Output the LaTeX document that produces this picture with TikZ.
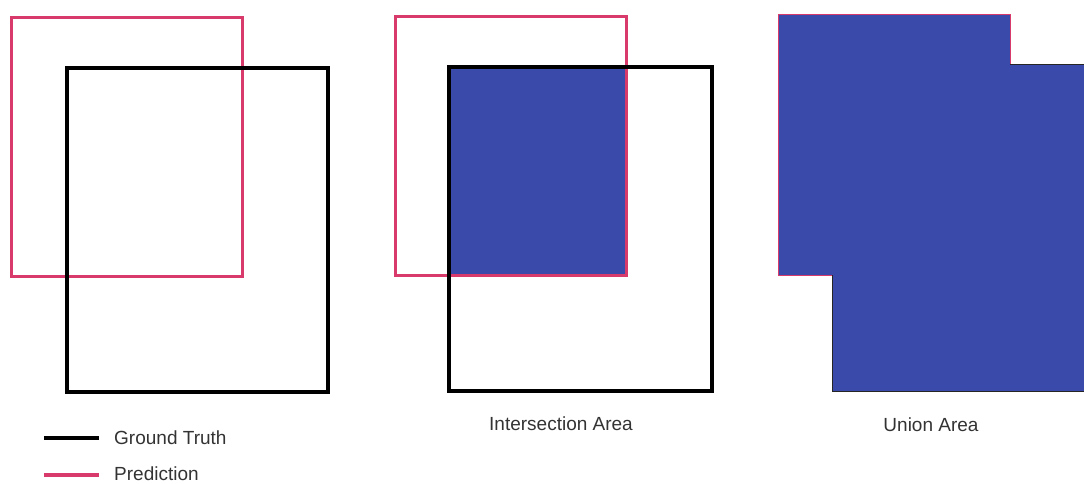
\documentclass[tikz,border=0pt]{standalone}
\usepackage{fontspec}
\setmainfont{Liberation Sans}
\definecolor{predpink}{HTML}{D83A6C}
\definecolor{areablue}{HTML}{3A4AAA}
\definecolor{labelgray}{HTML}{333333}
\tikzset{
  gtbox/.style={draw=black, line width=3.8pt, line join=miter},
  predbox/.style={draw=predpink, line width=3pt, line join=miter},
  areafill/.style={fill=areablue, draw=none},
  lbl/.style={font=\fontsize{19}{22}\selectfont, text=labelgray, inner sep=0pt},
}
\begin{document}
\begin{tikzpicture}[x=1pt,y=-1pt]
\useasboundingbox (0,0) rectangle (1084,483);
% Panel 1
\draw[predbox] (11,17) rectangle (242,276);
\draw[gtbox] (67,68) rectangle (328,392);
% Panel 2
\fill[areafill] (449,67) rectangle (626,275);
\draw[predbox] (395,16) rectangle (626,275);
\draw[gtbox] (449,67) rectangle (712,391);
\node[lbl] (inter) at (561,424) {Intersection Area};
% Panel 3
\fill[areafill] (778,14) -- (1010,14) -- (1010,64) -- (1084,64) -- (1084,391) -- (832,391) -- (832,275) -- (778,275) -- cycle;
\draw[predpink, line width=1pt] (832,275) -- (778,275) -- (778,14) -- (1010,14) -- (1010,64);
\draw[black!85, line width=1pt] (1010,64) -- (1084,64);
\draw[black!85, line width=1pt] (832,275) -- (832,391) -- (1084,391);
\node[lbl] (union) at (931,425) {Union Area};
% Legend
\coordinate (g1) at (44,438);
\coordinate (g2) at (99,438);
\coordinate (p1) at (44,475);
\coordinate (p2) at (99,475);
\draw[black, line width=3.8pt] (g1) -- (g2);
\draw[predpink, line width=3.8pt] (p1) -- (p2);
\node[lbl, anchor=west] (gt) at (114,437.5) {Ground Truth};
\node[lbl, anchor=west] (pred) at (114,474) {Prediction};
\end{tikzpicture}
\end{document}
